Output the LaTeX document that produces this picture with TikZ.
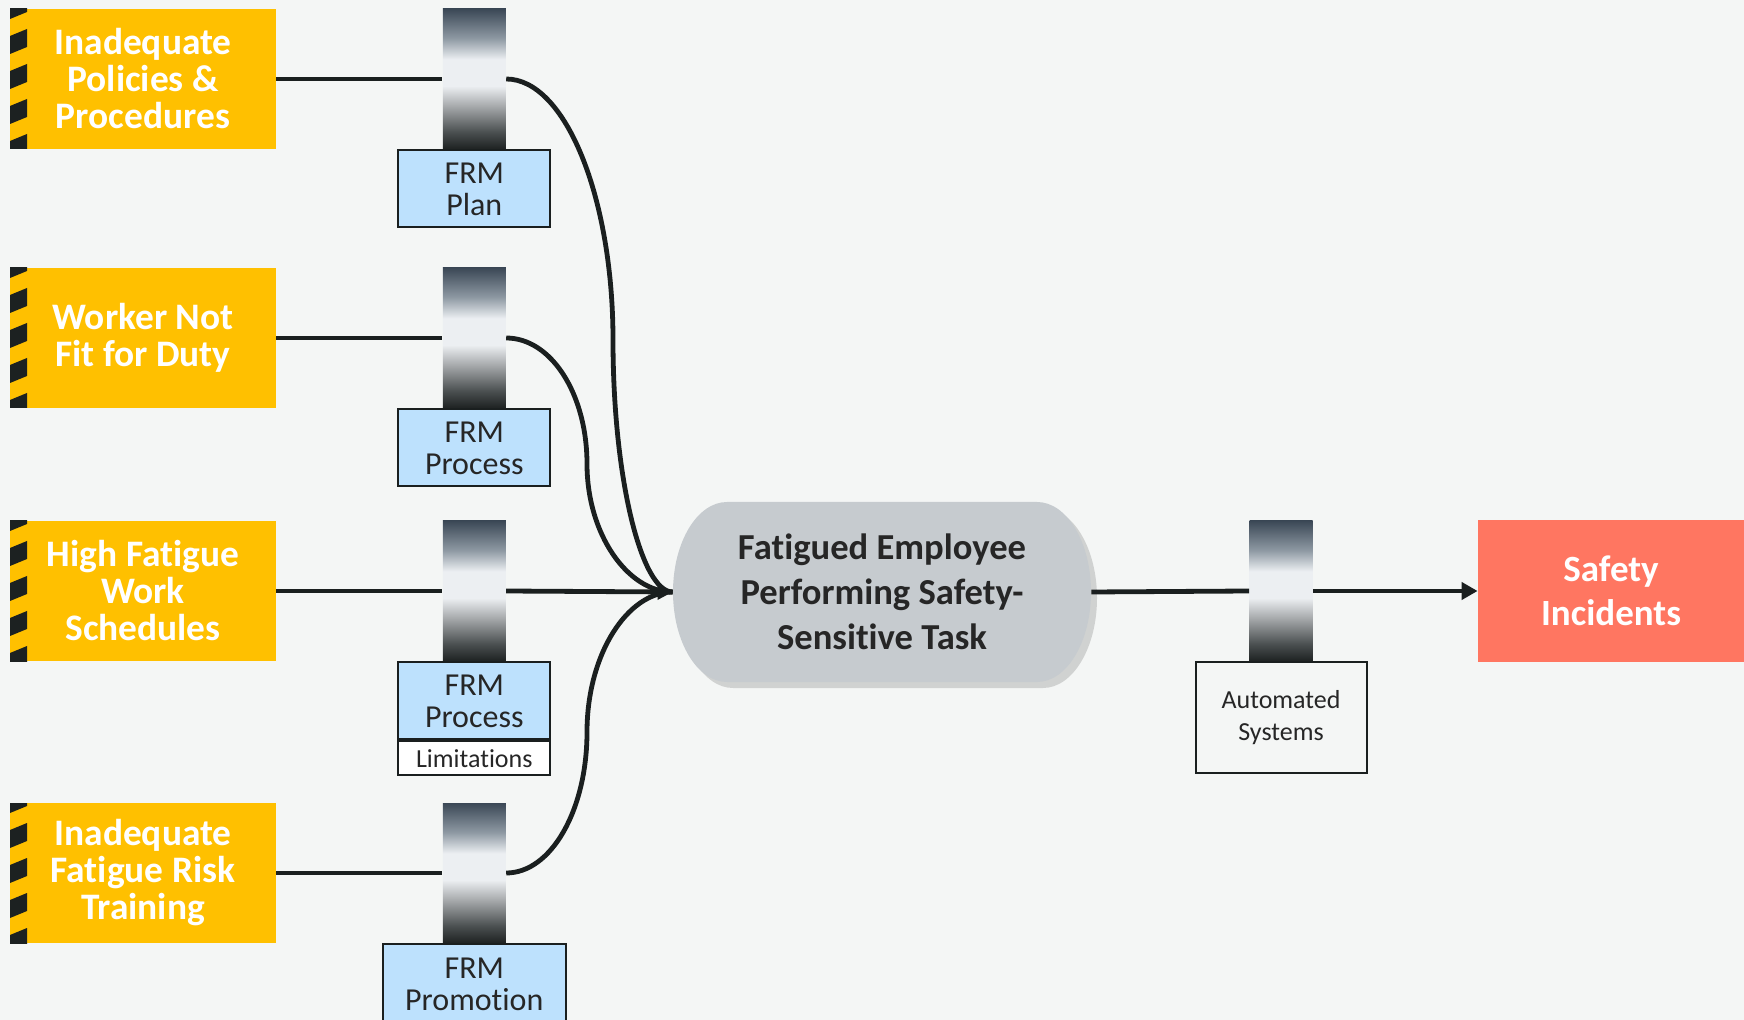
\documentclass[tikz,border=0pt]{standalone}
\usepackage{fontspec}
\setmainfont{Carlito}[Ligatures=NoCommon]
\usetikzlibrary{positioning,shadows,arrows.meta}

\definecolor{bgcol}{HTML}{F4F6F5}
\definecolor{hazyellow}{HTML}{FFC000}
\definecolor{stripecol}{HTML}{1C2121}
\definecolor{linecol}{HTML}{1A1F1F}
\definecolor{frmblue}{HTML}{BDE1FD}
\definecolor{taskgray}{HTML}{C6CBCF}
\definecolor{incred}{HTML}{FF7661}
\definecolor{bartop}{HTML}{3B4856}
\definecolor{barmid}{HTML}{8E99A3}
\definecolor{barlight}{HTML}{ECEFF2}
\definecolor{barlow}{HTML}{A8ABAD}
\definecolor{bardeep}{HTML}{4A4F50}
\definecolor{barbot}{HTML}{1E2222}

\pgfdeclareverticalshading{barrier}{100bp}{color(0bp)=(barbot); color(25bp)=(barbot); color(31bp)=(bardeep); color(40.5bp)=(barlow); color(47.5bp)=(barlight); color(57bp)=(barlight); color(64.5bp)=(barmid); color(75bp)=(bartop); color(100bp)=(bartop)}

\tikzset{
    hazard/.style={fill=hazyellow, text=white, font=\bfseries\fontsize{18.7}{18.5}\selectfont, align=center,
        minimum width=133pt, minimum height=70pt, inner sep=0pt,
        path picture={
            \foreach \k in {0,...,4}
                \fill[stripecol] ([yshift={4pt-\k*17.5pt}]path picture bounding box.north west) -- ++(8.5pt,3.5pt) -- ++(0pt,-9pt) -- ++(-8.5pt,-3.5pt) -- cycle;
        }},
    barrier/.style={shade, shading=barrier, minimum width=31.5pt, minimum height=70pt, inner sep=0pt},
    frm/.style={draw=linecol, line width=1pt, fill=frmblue, text=black!85, font=\fontsize{16}{16}\selectfont,
        align=center, minimum width=76pt, minimum height=38.5pt, inner sep=0pt},
    link/.style={draw=linecol, line width=2.4pt}
}

\begin{document}
\begin{tikzpicture}[x=0.5pt, y=-0.5pt]
        \useasboundingbox (0,0) rectangle (1744,1020);
        \fill[bgcol] (0,0) rectangle (1744,1020);

        \node[hazard] (hz_1) at (143,79) {Inadequate\\Policies \&\\Procedures};
        \node[hazard] (hz_2) at (143,338) {Worker Not\\Fit for Duty};
        \node[hazard] (hz_3) at (143,591) {High Fatigue\\Work\\Schedules};
        \node[hazard] (hz_4) at (143,873) {Inadequate\\Fatigue Risk\\Training};

        \node[barrier] (bar_1) [right = 83pt of hz_1] {};
        \node[barrier] (bar_2) [right = 83pt of hz_2] {};
        \node[barrier] (bar_3) [right = 83pt of hz_3] {};
        \node[barrier] (bar_4) [right = 83pt of hz_4] {};

        \node[frm] (frm_1) [below = 0pt of bar_1] {FRM\\Plan};
        \node[frm] (frm_2) [below = 0pt of bar_2] {FRM\\Process};
        \node[frm] (frm_3) [below = 0pt of bar_3] {FRM\\Process};
        \node[frm, fill=white, minimum height=17pt, font=\fontsize{13}{14}\selectfont] (lim_3) [below = 0pt of frm_3] {Limitations};
        \node[frm, minimum width=91.5pt, minimum height=40pt] (frm_4) [below = 0pt of bar_4] {FRM\\Promotion};

        % task blob with oval ends
        \fill[taskgray, drop shadow={shadow xshift=3pt, shadow yshift=-3pt, opacity=0.3}] (727,502) -- (1037,502)
            arc[start angle=90, end angle=-90, x radius=27pt, y radius=45pt] -- (727,682)
            arc[start angle=270, end angle=90, x radius=27pt, y radius=45pt] -- cycle;
        \node[minimum width=209pt, minimum height=90pt, inner sep=0pt, align=center, text=black!85,
            font=\bfseries\fontsize{18.3}{22.5}\selectfont] (task) at (882,592) {Fatigued Employee\\Performing Safety-\\Sensitive Task};

        \node[barrier] (bar_5) at (1281,591) {};
        \node[frm, fill=none, minimum width=85.5pt, minimum height=55.5pt, font=\fontsize{13}{16}\selectfont] (auto) [below = 0pt of bar_5] {Automated\\Systems};

        \node[fill=incred, text=white, font=\bfseries\fontsize{18.5}{22}\selectfont, align=center,
            minimum width=133pt, minimum height=70.5pt, inner sep=0pt] (incident) at (1611,591) {Safety\\Incidents};

        \coordinate (bend_1) at (613,340);
        \coordinate (bend_2) at (587,464);
        \coordinate (bend_4) at (587,732);

        %hazards to barriers
        \draw[link] (hz_1) -- (bar_1);
        \draw[link] (hz_2) -- (bar_2);
        \draw[link] (hz_3) -- (bar_3);
        \draw[link] (hz_4) -- (bar_4);

        %barrier 1 to task
        \draw[link] (bar_1.east) .. controls +(59,0) and +(0,-143) .. (bend_1) .. controls +(0,139) and +(-31,0) .. (task.west);

        %barrier 2 to task
        \draw[link] (bar_2.east) .. controls +(45,0) and +(0,-70) .. (bend_2) .. controls +(0,70) and +(-45,0) .. (task.west);

        %barrier 4 to task
        \draw[link] (bar_4.east) .. controls +(45,0) and +(0,78) .. (bend_4) .. controls +(0,-78) and +(-45,0) .. (task.west);

        %barrier 3 to task
        \draw[link, -{Triangle[length=7.5pt, width=7.5pt]}] (bar_3.east) -- (task.west);

        %task to incidents
        \draw[link] (task.east) -- (bar_5.west);
        \draw[link, -{Triangle[length=8pt, width=8.5pt]}] (bar_5.east) -- (incident.west);
\end{tikzpicture}
\end{document}
